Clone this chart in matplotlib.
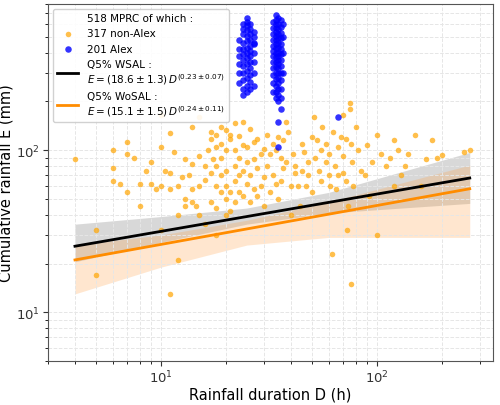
import numpy as np
import matplotlib.pyplot as plt

# non-Alex events as (duration h, cumulative rainfall mm)
nonalex = [(4, 88), (5, 32), (5, 17), (6, 100), (6, 78), (6, 65), (6.5, 62), (7, 112), (7, 95), (7, 55),
           (7.5, 90), (8, 62), (8, 45), (8.5, 75), (9, 85), (9, 62), (9.5, 58), (10, 165), (10, 105), (10, 60),
           (10, 32), (10.5, 75), (11, 128), (11, 72), (11, 58), (11, 13), (11.5, 98), (12, 60), (12, 40), (12, 21),
           (12.5, 68), (13, 45), (13, 88), (13, 50), (13.5, 70), (14, 140), (14, 82), (14, 58), (14, 48), (14.5, 45),
           (15, 160), (15, 92), (15, 60), (15, 40), (16, 80), (16, 66), (16, 35), (16.5, 100), (17, 130), (17, 117),
           (17, 72), (17, 48), (17.5, 88), (18, 125), (18, 105), (18, 80), (18, 60), (18, 44), (18, 30), (19, 140),
           (19, 90), (19, 70), (19, 55), (19, 110), (20, 133), (20, 100), (20, 75), (20, 60), (20, 50), (20, 40),
           (21, 125), (21, 118), (21, 55), (21, 42), (22, 148), (22, 100), (22, 80), (22, 65), (22, 48), (23, 122),
           (23, 90), (23, 70), (23, 55), (24, 150), (24, 108), (24, 75), (24, 52), (25, 105), (25, 85), (25, 62),
           (26, 135), (26, 70), (26, 48), (27, 112), (27, 88), (27, 58), (28, 118), (28, 78), (28, 52), (29, 95),
           (29, 60), (30, 102), (30, 68), (30, 45), (31, 125), (31, 80), (32, 95), (32, 55), (33, 110), (33, 70),
           (34, 100), (34, 62), (35, 120), (35, 50), (36, 90), (36, 65), (37, 115), (37, 78), (38, 150), (38, 85),
           (39, 130), (40, 60), (40, 40), (41, 95), (42, 72), (42, 80), (43, 60), (44, 45), (45, 110), (45, 75),
           (46, 98), (47, 60), (48, 85), (48, 70), (50, 120), (50, 55), (51, 160), (52, 90), (53, 115), (54, 75),
           (55, 100), (55, 65), (56, 140), (58, 85), (58, 110), (60, 70), (60, 95), (61, 60), (62, 23), (63, 130),
           (64, 80), (65, 58), (66, 105), (66, 70), (68, 120), (70, 92), (70, 165), (70, 72), (72, 118), (72, 65),
           (74, 45), (75, 195), (75, 180), (76, 110), (77, 85), (78, 60), (80, 140), (82, 100), (85, 75), (88, 70),
           (90, 108), (92, 52), (95, 85), (100, 30), (100, 125), (105, 95), (110, 80), (115, 90), (120, 115),
           (125, 100), (130, 70), (135, 80), (140, 95), (150, 125), (160, 60), (170, 88), (180, 115), (190, 90),
           (200, 93), (255, 98), (270, 100), (76, 15), (73, 32), (120, 60)]
nonalex_D = [p[0] for p in nonalex]
nonalex_E = [p[1] for p in nonalex]

# Alex events: two duration columns
alex_D = [23] * 6 + [24] * 12 + [25] * 14 + [26] * 12 + [27] * 8 + [33] * 12 + [34] * 18 + [35] * 20 + [36] * 14 + [37] * 4 + [66]
alex_E = ([260, 300, 340, 380, 420, 480] +
          [220, 240, 270, 300, 330, 360, 390, 420, 460, 520, 560, 600] +
          [230, 250, 280, 310, 340, 370, 400, 430, 470, 510, 550, 590, 620, 650] +
          [240, 265, 290, 320, 350, 380, 410, 440, 480, 520, 560, 600] +
          [250, 300, 350, 400, 450, 500, 540, 460] +
          [230, 260, 290, 320, 350, 380, 410, 440, 480, 520, 570, 620] +
          [210, 230, 250, 275, 300, 325, 350, 375, 400, 425, 450, 480, 510, 540, 570, 600, 640, 680] +
          [105, 150, 200, 220, 240, 260, 280, 300, 320, 340, 360, 380, 400, 430, 460, 490, 520, 560, 600, 650] +
          [180, 210, 240, 270, 300, 330, 360, 390, 420, 450, 490, 530, 580, 640] +
          [300, 400, 500, 600] + [160])

# quantile fits and uncertainty bands
fit_D = np.array([4, 270])
band_D = [4, 10, 25, 60, 270]
grey_lo = [20.5, 27, 35, 41, 47]
grey_hi = [35, 39, 44, 55, 97]
orange_lo = [13, 19, 26, 29, 29]
orange_hi = [26, 30, 37, 48, 81]

fig, ax = plt.subplots(figsize=(5.0, 4.06), dpi=100)

ax.scatter(nonalex_D, nonalex_E, s=16, color="orange", alpha=0.7, lw=0, zorder=2, label="317 non-Alex")
ax.scatter(alex_D, alex_E, s=22, color="blue", alpha=0.8, lw=0, zorder=2, label="201 Alex")

ax.fill_between(band_D, grey_lo, grey_hi, color="grey", alpha=0.3, lw=0, zorder=1)
ax.fill_between(band_D, orange_lo, orange_hi, color="#ff9f40", alpha=0.25, lw=0, zorder=1)

ax.plot([], [], " ", label="518 MPRC of which :")
ax.plot(fit_D, 18.6 * fit_D ** 0.23, color="black", lw=2, zorder=3,
        label="Q5% WSAL :\n$E=(18.6\\pm1.3)\\,D^{(0.23\\pm0.07)}$")
ax.plot(fit_D, 15.1 * fit_D ** 0.24, color="darkorange", lw=2, zorder=3,
        label="Q5% WoSAL :\n$E=(15.1\\pm1.5)\\,D^{(0.24\\pm0.11)}$")

ax.set_xscale("log")
ax.set_yscale("log")
ax.set_xlim(3, 346)
ax.set_ylim(5, 800)
ax.grid(True, which="both", ls="--", color="#e6e6e6", lw=0.7)
ax.tick_params(labelsize=9.5, colors="#333333", pad=2)
for s in ax.spines.values():
    s.set_color("#555555")
ax.set_xlabel("Rainfall duration D (h)", fontsize=10.5, labelpad=1)
ax.set_ylabel("Cumulative rainfall E (mm)", fontsize=10.5, labelpad=2)

h, l = ax.get_legend_handles_labels()
order = [2, 0, 1, 3, 4]
ax.legend([h[i] for i in order], [l[i] for i in order], loc="upper left", fontsize=7.5, framealpha=0.9)

fig.subplots_adjust(left=0.096, right=0.986, top=0.988, bottom=0.108)
fig.savefig("out.png")
